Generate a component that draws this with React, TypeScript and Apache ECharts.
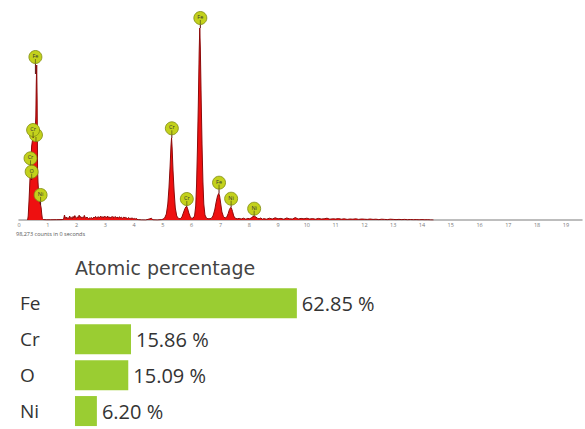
import React, { useEffect, useRef } from "react";
import * as echarts from "echarts";

// ---------- Spectrum data (keV, counts) ----------
const lowEnergyLines: [number, number][] = [
  [0.3, 0], [0.32, 200], [0.35, 1000], [0.38, 2000], [0.41, 2900], [0.44, 3700],
  [0.47, 4000], [0.5, 4100], [0.53, 4200], [0.56, 4300], [0.585, 5200], [0.6, 6800],
  [0.615, 7750], [0.63, 6000], [0.645, 2500], [0.66, 1900], [0.68, 1400], [0.7, 1100],
  [0.72, 900], [0.74, 800], [0.75, 750], [0.77, 600], [0.79, 300], [0.81, 80],
  [0.85, 20], [0.95, 10], [1.1, 10], [1.3, 15], [1.5, 20],
];

const continuumNoise: [number, number][] = [
  [1.55, 40], [1.58, 250], [1.61, 80], [1.64, 150], [1.67, 60], [1.7, 120], [1.73, 70],
  [1.76, 200], [1.79, 90], [1.82, 130], [1.85, 60], [1.88, 180], [1.91, 100], [1.94, 220],
  [1.97, 120], [2.0, 90], [2.03, 160], [2.06, 110], [2.09, 240], [2.12, 130], [2.15, 170],
  [2.18, 90], [2.21, 140], [2.24, 110], [2.27, 230], [2.3, 120], [2.33, 90], [2.36, 150],
  [2.39, 100], [2.42, 60], [2.45, 110], [2.48, 80], [2.51, 130], [2.54, 70], [2.57, 90],
  [2.6, 150], [2.63, 100], [2.66, 180], [2.69, 120], [2.72, 90], [2.75, 170], [2.78, 110],
  [2.81, 140], [2.84, 200], [2.87, 120], [2.9, 160], [2.93, 100], [2.96, 190], [2.99, 130],
  [3.02, 170], [3.05, 110], [3.08, 200], [3.11, 120], [3.14, 150], [3.17, 90], [3.2, 160],
  [3.23, 130], [3.26, 180], [3.29, 100], [3.32, 140], [3.35, 170], [3.38, 110], [3.41, 150],
  [3.44, 90], [3.47, 130], [3.5, 160], [3.53, 100], [3.56, 140], [3.59, 80], [3.62, 120],
  [3.65, 150], [3.68, 90], [3.71, 130], [3.74, 100], [3.77, 70], [3.8, 120], [3.83, 90],
  [3.86, 60], [3.89, 110], [3.92, 70], [3.95, 100], [3.98, 50], [4.01, 80], [4.04, 40],
  [4.07, 90], [4.1, 30], [4.15, 20], [4.25, 5], [4.4, 0], [4.55, 60], [4.6, 90],
  [4.65, 10], [4.8, 0], [4.95, 20],
];

const chromiumK: [number, number][] = [
  [5.0, 40], [5.06, 100], [5.12, 300], [5.17, 800], [5.21, 1600], [5.25, 2700],
  [5.28, 3700], [5.3, 4100], [5.32, 3600], [5.35, 2500], [5.39, 1400], [5.43, 600],
  [5.48, 200], [5.54, 80], [5.6, 60], [5.66, 150], [5.71, 350], [5.76, 550], [5.8, 660],
  [5.83, 670], [5.86, 560], [5.9, 350], [5.95, 160], [6.0, 80], [6.05, 100],
];

const ironNickelK: [number, number][] = [
  [6.1, 200], [6.14, 700], [6.17, 1800], [6.2, 3600], [6.23, 5800], [6.26, 8400],
  [6.28, 9600], [6.3, 8600], [6.33, 6000], [6.36, 3700], [6.39, 1900], [6.42, 800],
  [6.46, 250], [6.52, 80], [6.6, 60], [6.68, 80], [6.74, 200], [6.8, 500], [6.85, 900],
  [6.9, 1220], [6.94, 1330], [6.97, 1200], [7.01, 800], [7.05, 400], [7.1, 180],
  [7.16, 100], [7.22, 150], [7.27, 330], [7.31, 520], [7.35, 620], [7.38, 600],
  [7.42, 420], [7.46, 200], [7.51, 90], [7.58, 60], [7.65, 80], [7.72, 50], [7.8, 90],
  [7.88, 40], [7.95, 80], [8.02, 60], [8.08, 120], [8.13, 170], [8.18, 190], [8.23, 150],
  [8.28, 90], [8.34, 60], [8.4, 100], [8.46, 40],
];

const tailNoise: [number, number][] = [
  [8.5, 70], [8.6, 40], [8.7, 90], [8.8, 50], [8.9, 110], [9.0, 60], [9.1, 80], [9.2, 40],
  [9.3, 100], [9.4, 60], [9.5, 50], [9.6, 120], [9.7, 50], [9.8, 80], [9.9, 60], [10.0, 90],
  [10.1, 50], [10.2, 70], [10.3, 40], [10.4, 80], [10.5, 50], [10.6, 60], [10.7, 90],
  [10.8, 40], [10.9, 60], [11.0, 50], [11.1, 70], [11.2, 40], [11.3, 60], [11.4, 30],
  [11.5, 50], [11.6, 40], [11.7, 60], [11.8, 30], [11.9, 50], [12.0, 40], [12.1, 30],
  [12.2, 50], [12.3, 30], [12.4, 40], [12.5, 20], [12.6, 40], [12.7, 30], [12.8, 20],
  [12.9, 40], [13.0, 30], [13.1, 20], [13.2, 30], [13.3, 20], [13.4, 30], [13.5, 15],
  [13.6, 25], [13.7, 15], [13.8, 20], [13.9, 10], [14.0, 20], [14.1, 10], [14.2, 15],
  [14.3, 5], [14.4, 0],
];

// ---------- Element markers: [keV, marker centre counts, line end counts] ----------
// The first marker sits underneath the upper Cr marker; its label is hidden in the reference.
const markerLabels = ["", "Fe", "Cr", "Cr", "O", "Ni", "Cr", "Cr", "Fe", "Fe", "Ni", "Ni"];
const markerPositions: [number, number, number][] = [
  [0.59, 4250, 4000],
  [0.57, 8150, 7300],
  [0.49, 4500, 4100],
  [0.4, 3085, 2700],
  [0.44, 2415, 2000],
  [0.75, 1250, 760],
  [5.31, 4585, 4100],
  [5.83, 1050, 670],
  [6.3, 10100, 9600],
  [6.95, 1865, 1330],
  [7.37, 1065, 620],
  [8.17, 565, 190],
];

const axisTickLabels = ["0", "1", "2", "3", "4", "5", "6", "7", "8", "9", "10", "11", "12", "13", "14", "15", "16", "17", "18", "19"];
const countsCaption = "98,273 counts in 0 seconds";

// ---------- Atomic percentage ----------
const elements = ["Fe", "Cr", "O", "Ni"];
const atomicPercent = [62.85, 15.86, 15.09, 6.2];
const barTitle = "Atomic percentage";

export default function App() {
  const ref = useRef<HTMLDivElement>(null);

  useEffect(() => {
    if (!ref.current) return;
    const chart = echarts.init(ref.current, undefined, { renderer: "svg" });
    const spectrum = [
      ...lowEnergyLines,
      ...continuumNoise,
      ...chromiumK,
      ...ironNickelK,
      ...tailNoise,
    ];

    chart.setOption({
      animation: false,
      grid: [
        { left: 19, top: 20, right: 0, height: 200 },
        { left: 75, top: 285.4, width: 353, height: 147.2 },
      ],
      xAxis: [
        {
          type: "value",
          gridIndex: 0,
          min: 0,
          max: 19.56,
          interval: 1,
          splitLine: { show: false },
          axisTick: { show: false },
          axisLine: { show: true, lineStyle: { color: "#a8a8a8", width: 1.5 } },
          axisLabel: {
            fontSize: 5.5,
            lineHeight: 6,
            color: "#777",
            margin: 1.5,
            fontFamily: "Open Sans",
            formatter: (v: number) =>
              Number.isInteger(v) && v < axisTickLabels.length ? axisTickLabels[v] : "",
          },
        },
        { type: "value", gridIndex: 1, min: 0, max: 100, show: false },
      ],
      yAxis: [
        { type: "value", gridIndex: 0, min: 0, max: 10000, show: false },
        {
          type: "category",
          gridIndex: 1,
          data: elements,
          inverse: true,
          axisLine: { show: false },
          axisTick: { show: false },
          axisLabel: {
            align: "left",
            margin: 55,
            fontSize: 19,
            fontFamily: "Open Sans",
            color: "#333",
          },
        },
      ],
      graphic: [
        {
          type: "text",
          x: 16,
          y: 233.5,
          style: {
            text: countsCaption,
            fontSize: 5.5,
            lineHeight: 6,
            fontFamily: "Open Sans",
            fill: "#555",
            verticalAlign: "middle",
          },
        },
        {
          type: "text",
          x: 75,
          y: 268,
          style: {
            text: barTitle,
            fontSize: 19,
            fontFamily: "DejaVu Sans",
            fill: "#444",
            verticalAlign: "middle",
          },
        },
      ],
      series: [
        {
          type: "line",
          xAxisIndex: 0,
          yAxisIndex: 0,
          data: spectrum,
          showSymbol: false,
          symbol: "none",
          lineStyle: { color: "#8b0a0a", width: 1 },
          areaStyle: { color: "#ee1010", opacity: 1 },
          z: 2,
        },
        {
          type: "custom",
          xAxisIndex: 0,
          yAxisIndex: 0,
          data: markerPositions,
          z: 5,
          renderItem: (params: any, api: any) => {
            const c = api.coord([api.value(0), api.value(1)]);
            const e = api.coord([api.value(0), api.value(2)]);
            const r = 6.5;
            const label = markerLabels[params.dataIndex];
            const children: any[] = [
              {
                type: "line",
                shape: { x1: c[0], y1: c[1] + r, x2: e[0], y2: e[1] },
                style: { stroke: "#5a1010", lineWidth: 1 },
              },
              {
                type: "circle",
                shape: { cx: c[0], cy: c[1], r },
                style: { fill: "#c3d11c", stroke: "#7f8a10", lineWidth: 0.8 },
              },
              {
                type: "line",
                shape: { x1: c[0], y1: c[1] + 2, x2: c[0], y2: c[1] + r },
                style: { stroke: "#3a3a10", lineWidth: 0.6 },
              },
            ];
            if (label) {
              children.push({
                type: "text",
                x: c[0],
                y: c[1] - 1,
                style: {
                  text: label,
                  fontSize: 5.5,
                  fontFamily: "Open Sans",
                  fill: "#333",
                  align: "center",
                  verticalAlign: "middle",
                },
              });
            }
            return { type: "group", children };
          },
        },
        {
          type: "bar",
          xAxisIndex: 1,
          yAxisIndex: 1,
          data: atomicPercent,
          barWidth: 30,
          itemStyle: { color: "#9acd32" },
          label: {
            show: true,
            position: "right",
            distance: 5,
            fontSize: 20,
            fontFamily: "Open Sans",
            color: "#333",
            formatter: (p: any) => `${Number(p.value).toFixed(2)} %`,
          },
        },
      ],
    });

    return () => chart.dispose();
  }, []);

  return (
    <div
      ref={ref}
      style={{ position: "fixed", left: 0, top: 0, width: 585, height: 429, background: "#fff" }}
    />
  );
}
